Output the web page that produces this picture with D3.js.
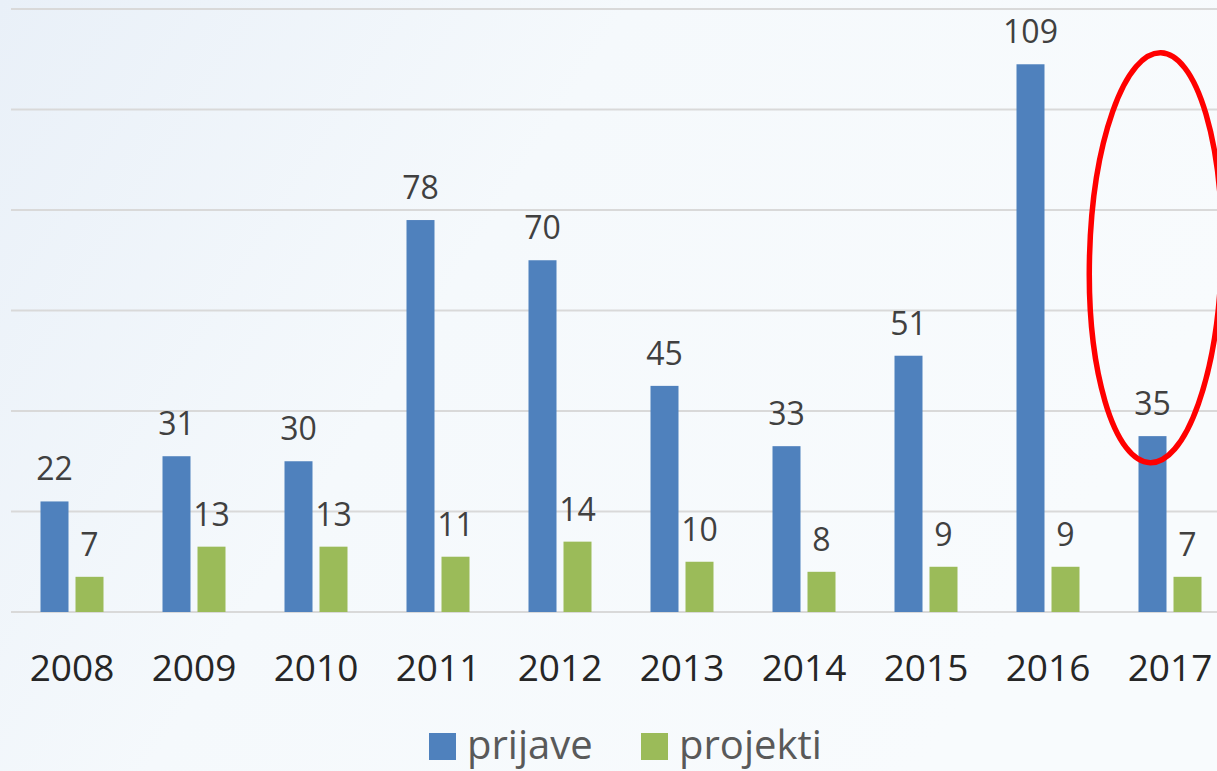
<!DOCTYPE html>
<html>
<head>
<meta charset="utf-8">
<script src="https://cdn.jsdelivr.net/npm/d3@7"></script>
<style>
  body { margin: 0; overflow: hidden; }
  svg { display: block; font-family: "Open Sans", sans-serif; }
</style>
</head>
<body>
<svg id="chart" width="1217" height="771"></svg>
<script>
var years = ["2008", "2009", "2010", "2011", "2012", "2013", "2014", "2015", "2016", "2017"];
var prijave = [22, 31, 30, 78, 70, 45, 33, 51, 109, 35];
var projekti = [7, 13, 13, 11, 14, 10, 8, 9, 9, 7];
var seriesNames = ["prijave", "projekti"];
var seriesColors = ["#4f81bd", "#9bbb59"];
var yTicks = [0, 20, 40, 60, 80, 100, 120];

var svg = d3.select("#chart"),
  width = +svg.attr("width"),
  height = +svg.attr("height");

// background gradient
var defs = svg.append("defs");
var grad = defs.append("linearGradient")
  .attr("id", "bg")
  .attr("x1", "0").attr("y1", "0")
  .attr("x2", "1").attr("y2", "0.4");
grad.append("stop").attr("offset", "0").attr("stop-color", "#e9f0f8");
grad.append("stop").attr("offset", "0.45").attr("stop-color", "#f5f9fc");
grad.append("stop").attr("offset", "1").attr("stop-color", "#f8fbfd");
svg.append("rect").attr("width", width).attr("height", height).attr("fill", "url(#bg)");

var x0 = d3.scaleBand().domain(years).range([11, 1231]).padding(0);
var x1 = d3.scaleBand().domain(seriesNames)
  .range([x0.bandwidth() / 2 - 31.5, x0.bandwidth() / 2 + 31.5])
  .paddingInner(0.2);
var y = d3.scaleLinear().domain([0, 120]).range([612, 9]);

// gridlines
svg.append("g")
  .selectAll("line")
  .data(yTicks)
  .enter().append("line")
  .attr("x1", 11).attr("x2", width)
  .attr("y1", function (d) { return y(d); })
  .attr("y2", function (d) { return y(d); })
  .attr("stroke", "#d9d9d9")
  .attr("stroke-width", 2);

var rows = years.map(function (yr, i) {
  return { year: yr, values: [prijave[i], projekti[i]] };
});

var groups = svg.append("g")
  .selectAll("g")
  .data(rows)
  .enter().append("g")
  .attr("transform", function (d) { return "translate(" + x0(d.year) + ",0)"; });

groups.selectAll("rect")
  .data(function (d) { return d.values.map(function (v, j) { return { key: seriesNames[j], value: v, j: j }; }); })
  .enter().append("rect")
  .attr("x", function (d) { return x1(d.key); })
  .attr("width", x1.bandwidth())
  .attr("y", function (d) { return y(d.value); })
  .attr("height", function (d) { return y(0) - y(d.value); })
  .attr("fill", function (d) { return seriesColors[d.j]; });

groups.selectAll("text")
  .data(function (d) { return d.values.map(function (v, j) { return { key: seriesNames[j], value: v }; }); })
  .enter().append("text")
  .attr("x", function (d) { return x1(d.key) + x1.bandwidth() / 2; })
  .attr("y", function (d) { return y(d.value) - 21; })
  .attr("text-anchor", "middle")
  .attr("font-size", 32)
  .attr("fill", "#404040")
  .text(function (d) { return d.value; });

// x axis labels
var xAxis = svg.append("g")
  .attr("transform", "translate(0,612)")
  .call(d3.axisBottom(x0).tickSize(0).tickPadding(0));
xAxis.select(".domain").remove();
xAxis.selectAll("text")
  .attr("y", 69)
  .attr("dy", null)
  .attr("font-size", 37)
  .attr("font-family", "\"Open Sans\", sans-serif")
  .attr("fill", "#262626");

// legend
var legendX = [429, 641];
var legend = svg.append("g")
  .selectAll("g")
  .data(seriesNames)
  .enter().append("g")
  .attr("transform", function (d, i) { return "translate(" + legendX[i] + ",733)"; });
legend.append("rect")
  .attr("width", 27).attr("height", 27)
  .attr("fill", function (d, i) { return seriesColors[i]; });
legend.append("text")
  .attr("x", 38).attr("y", 26)
  .attr("font-size", 40)
  .attr("fill", "#595959")
  .text(function (d) { return d; });

// red ellipse annotation
var ecx = x0("2017") + x1("prijave") + x1.bandwidth() / 2 + 3,
  ecy = y(70.5);
svg.append("ellipse")
  .attr("cx", ecx)
  .attr("cy", ecy)
  .attr("rx", 66)
  .attr("ry", 205)
  .attr("transform", "rotate(1.5," + ecx + "," + ecy + ")")
  .attr("fill", "none")
  .attr("stroke", "#ff0000")
  .attr("stroke-width", 5.5);
</script>
</body>
</html>
